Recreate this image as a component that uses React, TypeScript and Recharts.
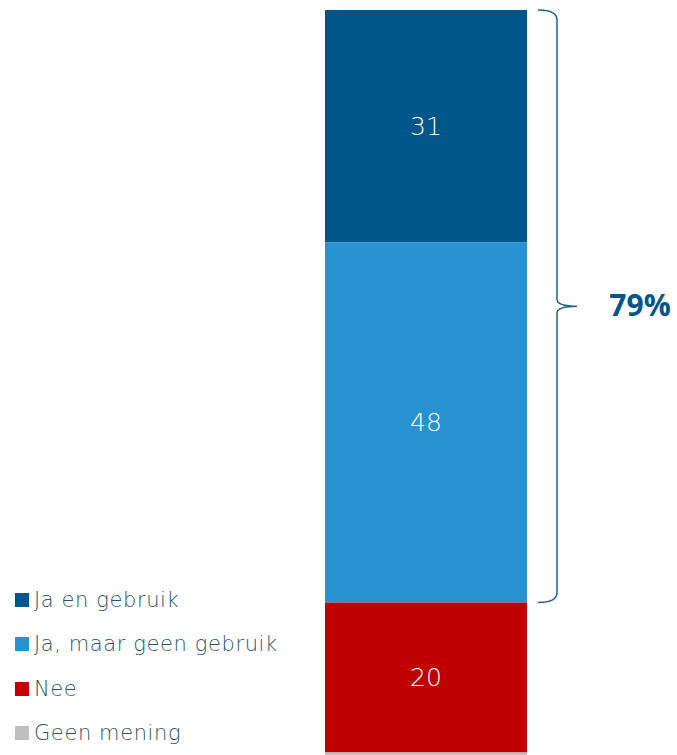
import React from 'react';
import { BarChart, Bar, XAxis, YAxis, LabelList, Legend, ReferenceArea } from 'recharts';

const CATEGORIES = ['Totaal'];
const SERIES = ['Ja en gebruik', 'Ja, maar geen gebruik', 'Nee', 'Geen mening'];
const VALUES = [31, 48, 20, 1];
const COLORS = ['#00558b', '#2892d0', '#c00000', '#bfbfbf'];
const SHOW_LABEL = [true, true, true, false];
const BRACE_SERIES = [0, 1]; // Ja en gebruik + Ja, maar geen gebruik

const braceTotal = BRACE_SERIES.reduce((s, i) => s + VALUES[i], 0);

const data = CATEGORIES.map((name) => {
  const row: any = { name };
  SERIES.forEach((s, i) => (row[s] = VALUES[i]));
  return row;
});

const renderLegend = () => (
  <div style={{ fontFamily: '"DejaVu Sans", sans-serif', fontWeight: 200, textAlign: 'left' }}>
    {SERIES.map((s, i) => (
      <div key={s} style={{ display: 'flex', alignItems: 'center', height: 44.3 }}>
        <span style={{ width: 14, height: 14, background: COLORS[i], display: 'inline-block', marginRight: 5 }} />
        <span style={{ fontSize: 21, color: '#2a5561', letterSpacing: 0.6 }}>{s}</span>
      </div>
    ))}
  </div>
);

const Brace = (props: any) => {
  const { x, y, width, height } = props;
  const left = x + width + 11;
  const spine = x + width + 30;
  const tip = x + width + 50;
  const top = y;
  const bottom = y + height;
  const mid = (top + bottom) / 2;
  const d = `M ${left} ${top} Q ${spine} ${top} ${spine} ${top + 10} L ${spine} ${mid - 7} Q ${spine} ${mid} ${tip} ${mid} Q ${spine} ${mid} ${spine} ${mid + 7} L ${spine} ${bottom - 10} Q ${spine} ${bottom} ${left} ${bottom}`;
  return (
    <g>
      <path d={d} fill="none" stroke="#1f5f8f" strokeWidth={1.5} />
      <text
        x={x + width + 113}
        y={mid + 2}
        textAnchor="middle"
        dominantBaseline="middle"
        fontFamily='"Open Sans", sans-serif'
        fontWeight={700}
        fontSize={30}
        fill="#00558b"
      >
        {braceTotal}%
      </text>
    </g>
  );
};

export default function App() {
  return (
    <div style={{ width: 677, height: 755, overflow: 'hidden', position: 'relative' }}>
      <style>{`body{margin:0;overflow:hidden}`}</style>
      <BarChart
        width={677}
        height={770}
        data={data}
        margin={{ top: 10, right: 150, bottom: 10, left: 325 }}
        barCategoryGap={0}
      >
        <XAxis dataKey="name" type="category" hide />
        <YAxis type="number" domain={[0, 100]} reversed hide />
        {SERIES.map((s, i) => (
          <Bar key={s} dataKey={s} stackId="a" fill={COLORS[i]} isAnimationActive={false}>
            {SHOW_LABEL[i] && (
              <LabelList
                dataKey={s}
                position="center"
                fill="#ffffff"
                fontSize={25}
                fontWeight={200}
                fontFamily='"DejaVu Sans", sans-serif'
              />
            )}
          </Bar>
        ))}
        <ReferenceArea y1={0} y2={braceTotal} shape={<Brace />} ifOverflow="visible" />
        <Legend
          layout="horizontal"
          align="center"
          verticalAlign="middle"
          content={renderLegend}
          wrapperStyle={{ left: 15, top: 578, width: 320 }}
        />
      </BarChart>
    </div>
  );
}
